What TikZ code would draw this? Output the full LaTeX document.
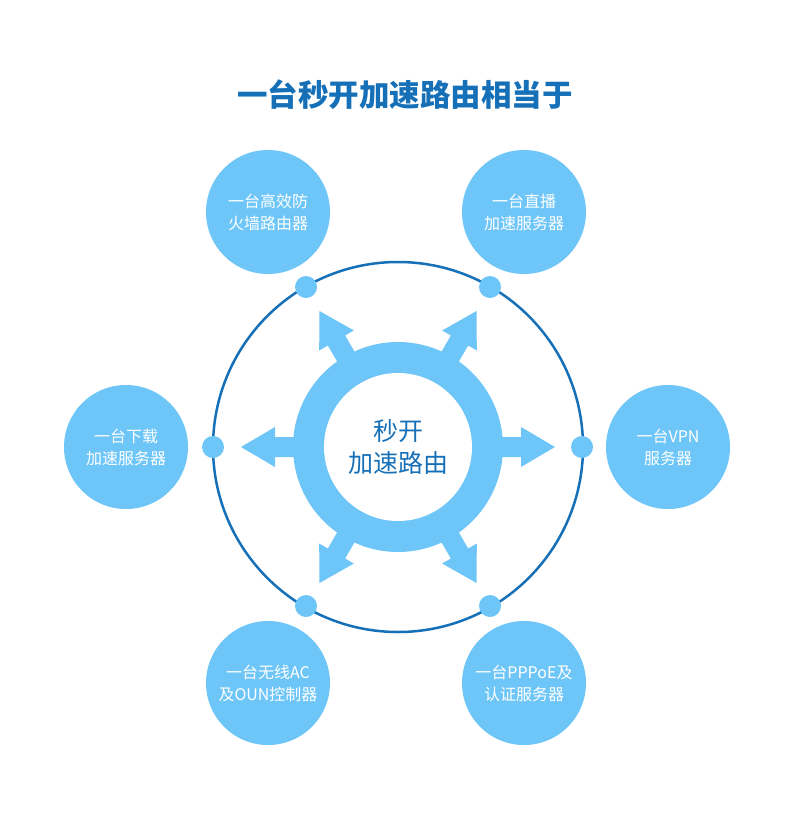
\documentclass[tikz,border=0pt]{standalone}
\usetikzlibrary{calc}
\usepackage{fontspec}
\setmainfont{Noto Sans CJK SC}
\definecolor{lb}{HTML}{6EC6F8}
\definecolor{db}{HTML}{1670B8}
\begin{document}
\begin{tikzpicture}[x=1pt,y=-1pt,
  sat/.style={circle,fill=lb,minimum size=124pt,inner sep=0pt,text=white,font=\fontsize{16}{22}\selectfont,align=center},
  dot/.style={circle,fill=lb,minimum size=22pt,inner sep=0pt}]
\useasboundingbox[fill=white] (0,0) rectangle (800,816);
\node[text=db,font=\fontsize{30.5}{32}\selectfont\bfseries] (title) at (405,95) {一台秒开加速路由相当于};
\coordinate (c) at (398,447);
\draw[db,line width=2.5pt] (c) circle[radius=185];
\foreach \a in {0,60,120,180,240,300}{
  \fill[lb,rotate around={\a:(c)}] ($(c)+(90,-10)$) -- ++(33,0) -- ++(0,-10) -- ($(c)+(157,0)$) -- ($(c)+(123,20)$) -- ++(0,-10) -- ($(c)+(90,10)$) -- cycle;
}
\fill[lb] (c) circle[radius=105];
\fill[white] (c) circle[radius=74];
\node[text=db,font=\fontsize{25}{32}\selectfont,align=center] (hub) at (c) {秒开\\加速路由};
\foreach \n/\x/\y in {d1/306/287,d2/490/287,d3/213/447,d4/582/447,d5/306/606,d6/490/606}
  \node[dot] (\n) at (\x,\y) {};
\node[sat] (s1) at (268,212) {一台高效防\\火墙路由器};
\node[sat] (s2) at (524,212) {一台直播\\加速服务器};
\node[sat] (s3) at (126,447) {一台下载\\加速服务器};
\node[sat] (s4) at (668,447) {一台VPN\\服务器};
\node[sat] (s5) at (268,683) {一台无线AC\\及OUN控制器};
\node[sat] (s6) at (524,683) {一台PPPoE及\\认证服务器};
\end{tikzpicture}
\end{document}
